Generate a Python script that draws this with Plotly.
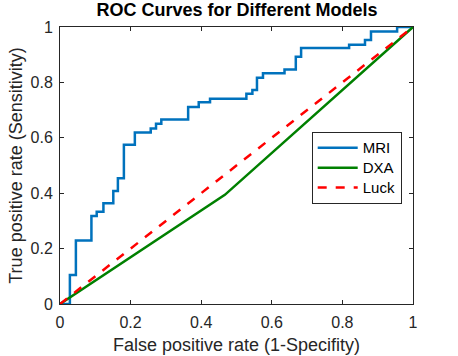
import plotly.graph_objects as go

mri_fpr = [0, 0.028, 0.028, 0.045, 0.045, 0.089, 0.089, 0.104, 0.104, 0.123, 0.123, 0.151, 0.151,
           0.164, 0.164, 0.181, 0.181, 0.212, 0.212, 0.257, 0.257, 0.272, 0.272, 0.287, 0.287,
           0.363, 0.363, 0.393, 0.393, 0.425, 0.425, 0.528, 0.528, 0.545, 0.545, 0.558, 0.558,
           0.575, 0.575, 0.636, 0.636, 0.668, 0.668, 0.683, 0.683, 0.819, 0.819, 0.864, 0.864,
           0.881, 0.881, 0.955, 0.955, 1.0]
mri_tpr = [0, 0, 0.105, 0.105, 0.229, 0.229, 0.318, 0.318, 0.333, 0.333, 0.364, 0.364, 0.408,
           0.408, 0.454, 0.454, 0.575, 0.575, 0.619, 0.619, 0.634, 0.634, 0.651, 0.651, 0.666,
           0.666, 0.711, 0.711, 0.728, 0.728, 0.741, 0.741, 0.759, 0.759, 0.773, 0.773, 0.817,
           0.817, 0.833, 0.833, 0.847, 0.847, 0.893, 0.893, 0.924, 0.924, 0.936, 0.936, 0.953,
           0.953, 0.984, 0.984, 1.0, 1.0]
dxa_fpr = [0, 0.467, 1.0]
dxa_tpr = [0, 0.394, 1.0]
luck_fpr = [0, 1]
luck_tpr = [0, 1]
tick_vals = [0, 0.2, 0.4, 0.6, 0.8, 1]
tick_text = ["0", "0.2", "0.4", "0.6", "0.8", "1"]
series_names = ["MRI", "DXA", "Luck"]

FONT = "Liberation Sans, Arial, sans-serif"


def leg(name):
    return '<span style="font-size:15px">' + name + '</span>'


fig = go.Figure()
fig.add_trace(go.Scatter(x=mri_fpr, y=mri_tpr, mode="lines", name=leg(series_names[0]),
                         line=dict(color="#0072BD", width=2.5)))
fig.add_trace(go.Scatter(x=dxa_fpr, y=dxa_tpr, mode="lines", name=leg(series_names[1]),
                         line=dict(color="#008000", width=2.5)))
fig.add_trace(go.Scatter(x=luck_fpr, y=luck_tpr, mode="lines", name=leg(series_names[2]),
                         line=dict(color="#FF0000", width=2.5, dash="dash")))

axis_common = dict(range=[0, 1], showline=True, linecolor="#262626", linewidth=1,
                   mirror="ticks", ticks="inside", ticklen=4, tickcolor="#262626",
                   showgrid=False, zeroline=False, tickvals=tick_vals, ticktext=tick_text,
                   tickfont=dict(family=FONT, size=16, color="#262626"))

fig.update_layout(
    width=458, height=356,
    margin=dict(l=60, r=45, t=27, b=52, autoexpand=False),
    paper_bgcolor="white", plot_bgcolor="white",
    title=dict(text="<b>ROC Curves for Different Models</b>", x=237 / 458, xanchor="center",
               xref="container",
               y=1 - 9.5 / 356, yanchor="middle",
               font=dict(family=FONT, size=18, color="black")),
    xaxis=dict(title=dict(text="False positive rate (1-Specifity)", standoff=8,
                          font=dict(family=FONT, size=18, color="#262626")),
               ticklabelstandoff=4,
               **axis_common),
    yaxis=dict(title=dict(text="True positive rate (Sensitivity)", standoff=3,
                          font=dict(family=FONT, size=18, color="#262626")),
               ticklabelstandoff=3,
               **axis_common),
    legend=dict(x=(312 - 60.3) / 353, y=(304.5 - 132) / 277.5, xanchor="left", yanchor="top",
                bordercolor="#262626", borderwidth=1, bgcolor="white",
                font=dict(family=FONT, size=13, color="black"),
                tracegroupgap=0, itemwidth=40),
    showlegend=True,
)

fig.write_html("out.html", config={"displayModeBar": False},
               post_script="document.body.style.margin='0';")
